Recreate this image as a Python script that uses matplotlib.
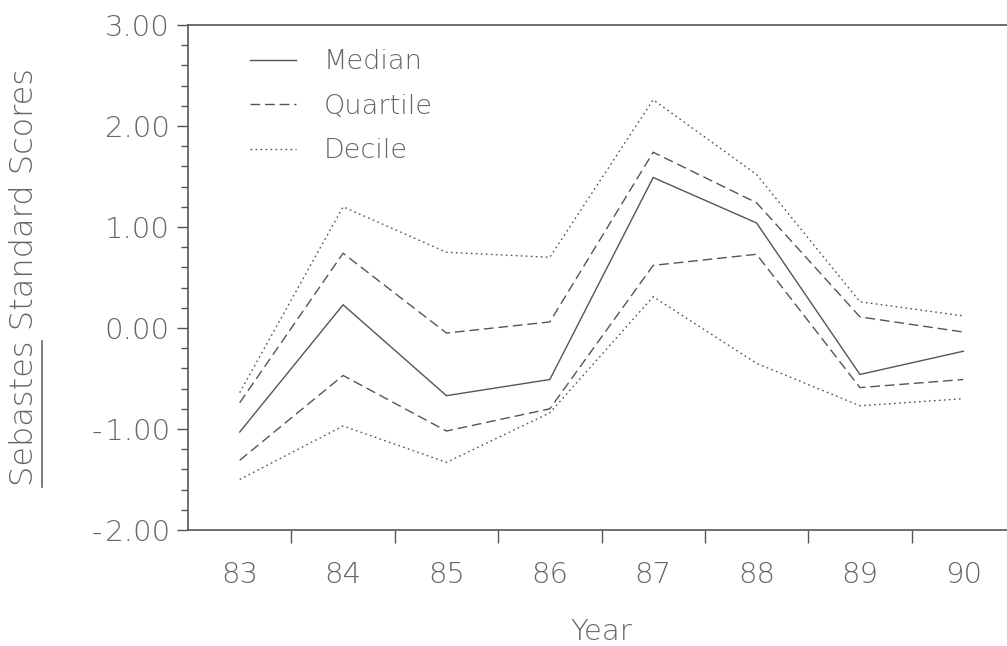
import numpy as np
import matplotlib
matplotlib.use('Agg')
import matplotlib.pyplot as plt
from matplotlib.ticker import MultipleLocator, FuncFormatter

years = [83, 84, 85, 86, 87, 88, 89, 90]
median = [-1.03, 0.23, -0.67, -0.51, 1.49, 1.04, -0.46, -0.23]
quart_hi = [-0.74, 0.74, -0.05, 0.06, 1.74, 1.24, 0.11, -0.04]
quart_lo = [-1.31, -0.47, -1.02, -0.80, 0.62, 0.73, -0.59, -0.51]
dec_hi = [-0.64, 1.20, 0.75, 0.70, 2.26, 1.52, 0.26, 0.12]
dec_lo = [-1.50, -0.97, -1.33, -0.84, 0.31, -0.35, -0.77, -0.70]

ink = '#555555'
txt = '#666666'
plt.rcParams['font.family'] = ['DejaVu Sans']
plt.rcParams['font.weight'] = 'light'
plt.rcParams['axes.labelweight'] = 'light'

fig = plt.figure(figsize=(10.07, 6.46), dpi=100)
ax = fig.add_axes([188 / 1007, 1 - 530 / 646, 827 / 1007, 505 / 646])

lw = 1.0
ax.plot(years, median, color=ink, lw=lw, label='Median')
ax.plot(years, quart_hi, color=ink, lw=lw, dashes=(7, 3.5), label='Quartile')
ax.plot(years, quart_lo, color=ink, lw=lw, dashes=(7, 3.5))
ax.plot(years, dec_hi, color=ink, lw=lw, dashes=(1.2, 2.4), label='Decile')
ax.plot(years, dec_lo, color=ink, lw=lw, dashes=(1.2, 2.4))

ax.set_xlim(82.5, 90.5)
ax.set_ylim(-2, 3)

ax.set_xticks(years)
ax.set_xticks(np.arange(83.5, 90.6, 1.0), minor=True)
ax.tick_params(axis='x', which='major', length=0, pad=22, labelsize=21, labelcolor=txt)
ax.tick_params(axis='x', which='minor', length=9, width=1, color=ink, direction='out')


def yfmt(v, pos):
    s = '%.2f' % abs(v)
    return ('-\u200a' + s) if v < -1e-9 else s


ax.yaxis.set_major_locator(MultipleLocator(1))
ax.yaxis.set_minor_locator(MultipleLocator(0.2))
ax.yaxis.set_major_formatter(FuncFormatter(yfmt))
ax.tick_params(axis='y', which='major', length=8, width=1, color=ink, pad=5,
               labelsize=21, labelcolor=txt)
ax.tick_params(axis='y', which='minor', length=5, width=1, color=ink)

for s in ['left', 'bottom', 'top']:
    ax.spines[s].set_color(ink)
    ax.spines[s].set_linewidth(1.2)
ax.spines['right'].set_visible(False)

ax.set_xlabel('Year', fontsize=21, color=txt, labelpad=21)
ylab_size = 23
ylab = ax.set_ylabel('Sebastes Standard Scores', fontsize=ylab_size, color=txt, labelpad=38)

leg = ax.legend(loc='upper left', bbox_to_anchor=(0.045, 1.0), frameon=False,
                fontsize=19.5, handlelength=1.7, handletextpad=1.05,
                labelspacing=0.72, labelcolor=txt)

# underline "Sebastes" in the y label
fig.canvas.draw()
r = fig.canvas.get_renderer()
bb = ylab.get_window_extent(r)
tmp = fig.text(0, 0, 'Sebastes', fontsize=ylab_size, rotation=90)
wb = tmp.get_window_extent(r)
tmp.remove()
W, H = fig.get_size_inches() * fig.dpi
ux = (bb.x1 + 3) / W
fig.add_artist(plt.Line2D([ux, ux], [bb.y0 / H, (bb.y0 + wb.height) / H],
                          color=txt, lw=1.2, transform=fig.transFigure))

fig.savefig('out.png', dpi=100)
